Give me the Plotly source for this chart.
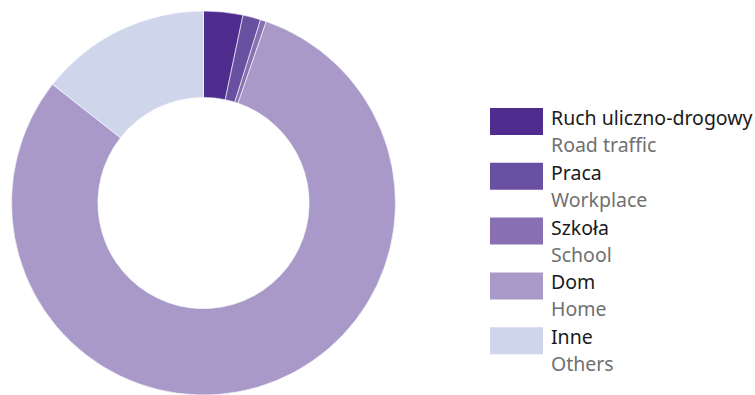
import plotly.graph_objects as go

labels_pl = ["Ruch uliczno-drogowy", "Praca", "Szkoła", "Dom", "Inne"]
labels_en = ["Road traffic", "Workplace", "School", "Home", "Others"]
values = [3.3, 1.5, 0.5, 80.3, 14.4]
colors = ["#4f2d8f", "#6a50a0", "#8870b3", "#a899c8", "#cfd5eb"]

W, H = 755, 395
cx, cy, R = 203.5, 203, 192

fig = go.Figure(go.Pie(
    labels=labels_pl,
    values=values,
    sort=False,
    direction="clockwise",
    rotation=0,
    hole=0.55,
    marker=dict(colors=colors, line=dict(color="white", width=0.6)),
    textinfo="none",
    hoverinfo="label+percent",
    showlegend=False,
    domain=dict(x=[(cx - R) / W, (cx + R) / W], y=[(H - cy - R) / H, (H - cy + R) / H]),
))

shapes = []
annotations = []
sw_x0, sw_x1 = 490, 543
top0, step, sw_h = 108, 54.8, 27
for i, (pl, en, c) in enumerate(zip(labels_pl, labels_en, colors)):
    t = top0 + i * step
    shapes.append(dict(type="rect", xref="paper", yref="paper",
                       x0=sw_x0 / W, x1=sw_x1 / W, y0=1 - t / H, y1=1 - (t + sw_h) / H,
                       fillcolor=c, line=dict(width=0)))
    annotations.append(dict(xref="paper", yref="paper", x=549 / W, y=1 - (t + 9.5) / H,
                            xanchor="left", yanchor="middle", showarrow=False, text=pl,
                            font=dict(family="Noto Sans", size=19.5, color="#1a1a1a")))
    annotations.append(dict(xref="paper", yref="paper", x=549 / W, y=1 - (t + 36.5) / H,
                            xanchor="left", yanchor="middle", showarrow=False, text=en,
                            font=dict(family="Noto Sans", size=19.5, color="#707070")))

fig.update_layout(width=W, height=H, margin=dict(l=0, r=0, t=0, b=0),
                  paper_bgcolor="white", plot_bgcolor="white",
                  shapes=shapes, annotations=annotations)
fig.write_html("out.html", config={"displayModeBar": False},
               post_script="document.body.style.margin='0';document.body.style.overflow='hidden';")
